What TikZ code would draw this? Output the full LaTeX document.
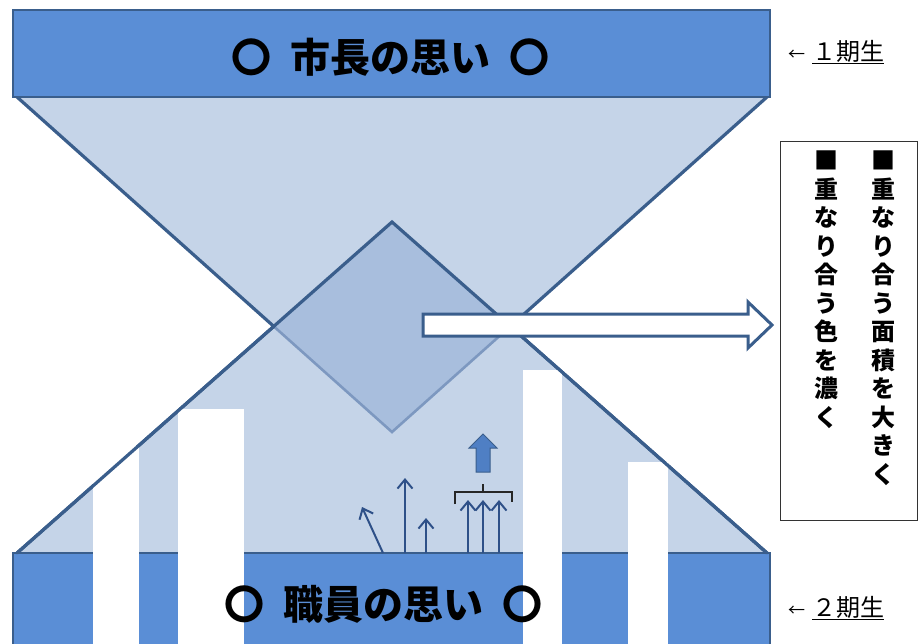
\documentclass[tikz,border=0pt]{standalone}
\usepackage{fontspec}
\newfontfamily\jp{Noto Sans CJK JP}
\usetikzlibrary{arrows.meta,calc}
\definecolor{barfill}{HTML}{5A8ED6}
\definecolor{barline}{HTML}{3A5E8C}
\definecolor{trifill}{HTML}{C5D4E8}
\definecolor{diafill}{HTML}{A8BEDD}
\definecolor{dialine}{HTML}{7D98C0}
\definecolor{arrowc}{HTML}{2E5088}
\definecolor{bigup}{HTML}{4F7FC4}
\tikzset{
  edgeline/.style={barline, line width=3.2pt, line cap=round},
  barbox/.style={fill=barfill, draw=barline, line width=2.4pt},
  whitebar/.style={fill=white},
  bartext/.style={font=\jp\bfseries\fontsize{40}{40}\selectfont, inner sep=0pt},
  sidelabel/.style={font=\jp\fontsize{24}{24}\selectfont, anchor=west, inner sep=0pt},
  vcol/.style={font=\jp\bfseries\fontsize{24}{28.5}\selectfont, align=center, anchor=north, inner sep=0pt},
  smallarrow/.style={arrowc, line width=2pt, -{Straight Barb[length=9pt,width=15pt]}},
}
\begin{document}
\begin{tikzpicture}[x=1pt,y=-1pt]
\useasboundingbox (0,0) rectangle (918,643);
\clip (0,0) rectangle (918,643);
% triangle corners
\coordinate (TL) at (17,97);
\coordinate (TR) at (767,97);
\coordinate (TA) at (392,432);
\coordinate (BL) at (17,553);
\coordinate (BR) at (767,553);
\coordinate (BA) at (392,222);
\coordinate (DL) at (intersection of TL--TA and BL--BA);
\coordinate (DR) at (intersection of TR--TA and BR--BA);
% fills
\fill[trifill] (TL) -- (TR) -- (TA) -- cycle;
\fill[trifill] (BL) -- (BR) -- (BA) -- cycle;
\fill[diafill] (BA) -- (DR) -- (TA) -- (DL) -- cycle;
% edges
\draw[dialine, line width=2.6pt] (DL) -- (TA) -- (DR);
\draw[edgeline] (TL) -- (DL);
\draw[edgeline] (TR) -- (DR);
\draw[edgeline, line join=miter] (BL) -- (BA) -- (BR);
% bars
\draw[barbox] (13,10) rectangle (770,97);
\draw[barbox] (13,553) rectangle (770,660);
% white columns
\fill[whitebar] (93,446) rectangle (139,660);
\fill[whitebar] (178,409) rectangle (244,660);
\fill[whitebar] (523,370) rectangle (562,660);
\fill[whitebar] (628,462) rectangle (668,660);
\draw[edgeline] (BL) -- (DL);
\draw[edgeline] (BR) -- (DR);
% bar texts
\node[bartext] (top) at (390,57) {〇\hspace{19pt}市長の思い\hspace{19pt}〇};
\node[bartext] (bottom) at (383,604) {〇\hspace{19pt}職員の思い\hspace{19pt}〇};
% side labels
\node[sidelabel] (l1) at (788,52) {{\fontsize{17}{17}\selectfont ←}\hspace{7pt}\underline{１期生}};
\node[sidelabel] (l2) at (788,608) {{\fontsize{17}{17}\selectfont ←}\hspace{7pt}\underline{２期生}};
% text box
\node[draw=black!80, line width=1pt, minimum width=137pt, minimum height=379pt, anchor=north west, inner sep=0pt] (box) at (780,141) {};
\node[vcol] (c1) at (883,151) {■\\重\\な\\り\\合\\う\\面\\積\\を\\大\\き\\く};
\node[vcol] (c2) at (826,151) {■\\重\\な\\り\\合\\う\\色\\を\\濃\\く};
% white block arrow
\coordinate (arrS) at (423,325);
\coordinate (arrE) at (772,325);
\draw[fill=white, draw=barline, line width=3pt, line join=miter]
  ($(arrS)+(0,-11)$) -- ($(arrE)+(-24,-11)$) -- ($(arrE)+(-24,-23)$) -- (arrE)
  -- ($(arrE)+(-24,23)$) -- ($(arrE)+(-24,11)$) -- ($(arrS)+(0,11)$) -- cycle;
% small arrows
\coordinate (a1s) at (383,553); \coordinate (a1e) at (362,507);
\coordinate (a2s) at (405,553); \coordinate (a2e) at (405,478);
\coordinate (a3s) at (426,553); \coordinate (a3e) at (426,518);
\coordinate (a4s) at (468,553); \coordinate (a4e) at (468,500);
\coordinate (a5s) at (483,553); \coordinate (a5e) at (483,500);
\coordinate (a6s) at (499,553); \coordinate (a6e) at (499,500);
\draw[smallarrow] (a1s) -- (a1e);
\draw[smallarrow] (a2s) -- (a2e);
\draw[smallarrow] (a3s) -- (a3e);
\draw[smallarrow] (a4s) -- (a4e);
\draw[smallarrow] (a5s) -- (a5e);
\draw[smallarrow] (a6s) -- (a6e);
% bracket
\draw[black!85, line width=1.3pt] (455,504) -- (455,492) -- (512,492) -- (512,502);
\draw[black!85, line width=1.3pt] (483,492) -- (483,484);
% thick up arrow
\coordinate (up) at (483,434);
\draw[fill=bigup, draw=barline, line width=1pt, line join=miter]
  (up) -- ($(up)+(14,14)$) -- ($(up)+(7,14)$) -- ($(up)+(7,38)$) -- ($(up)+(-7,38)$)
  -- ($(up)+(-7,14)$) -- ($(up)+(-14,14)$) -- cycle;
\end{tikzpicture}
\end{document}
